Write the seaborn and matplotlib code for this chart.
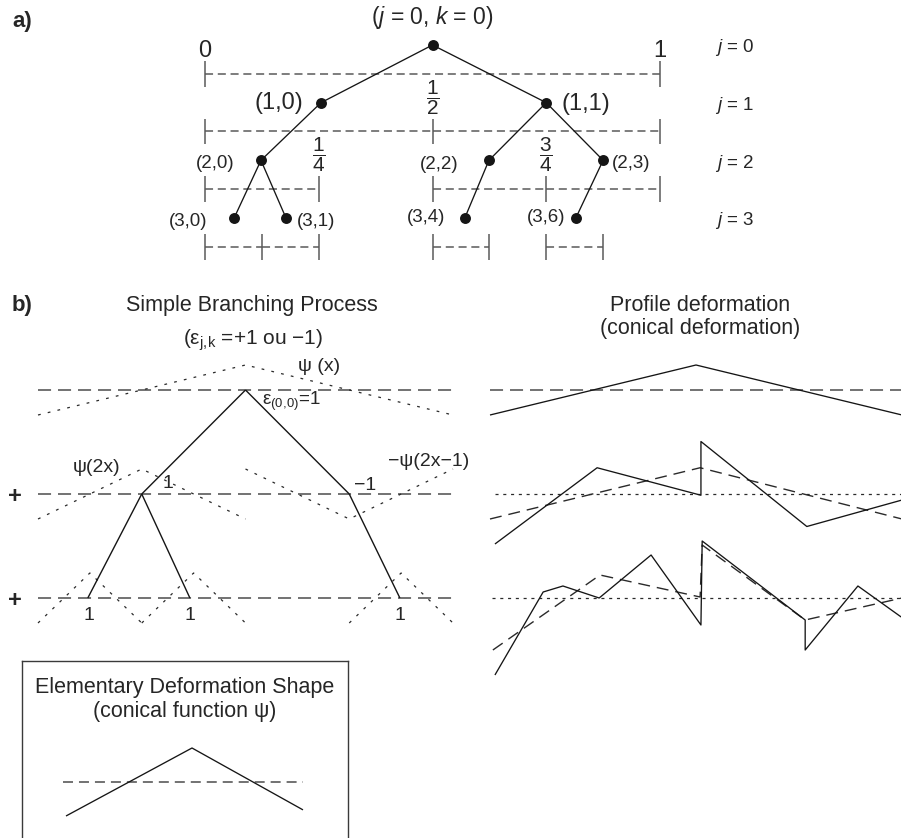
import matplotlib
matplotlib.use("Agg")
import matplotlib.pyplot as plt
import pandas as pd
import seaborn as sns

# ---------------- data ----------------
# a) dyadic tree: node (j, k), position on [0, 1], parent node
node_level = [0, 1, 1, 2, 2, 2, 3, 3, 3, 3]
node_index = [0, 0, 1, 0, 2, 3, 0, 1, 4, 6]
node_pos = [0.5, 0.255, 0.75, 0.123, 0.624, 0.875, 0.064, 0.178, 0.571, 0.815]
node_parent = [-1, 0, 0, 1, 2, 2, 3, 3, 4, 5]

# dyadic supports drawn under each level
interval_level = [0, 1, 1, 2, 2, 2, 3, 3, 3, 3]
interval_start = [0.0, 0.0, 0.5, 0.0, 0.5, 0.75, 0.0, 0.125, 0.5, 0.75]
interval_end = [1.0, 0.5, 1.0, 0.25, 0.75, 1.0, 0.125, 0.25, 0.625, 0.875]

end_labels = ["0", "1"]
end_values = [0.0, 1.0]
frac_level = [1, 2, 2]
frac_num = [1, 1, 3]
frac_den = [2, 4, 4]

# b) branching coefficients eps(j,k)
coef_level = [0, 1, 1, 2, 2, 2]
coef_index = [0, 0, 1, 0, 1, 3]
coef_sign = [1, 1, -1, 1, 1, 1]
coef_pos = [0.5, 0.25, 0.75, 0.12, 0.366, 0.872]
coef_parent = [-1, 0, 0, 1, 1, 2]

# elementary conical shape psi on its support
psi_t = [0.0, 0.5, 1.0]
psi_v = [-1.0, 1.0, -1.0]

# profile deformation, one row per level
prof0_t = [0.0, 0.5, 1.0]
prof0_v = [-1.0, 1.0, -1.0]
prof1_prev_t = [0.0, 0.51, 1.0]
prof1_prev_v = [-1.0, 1.05, -1.0]
prof1_t = [0.012, 0.26, 0.512, 0.512, 0.769, 0.998]
prof1_v = [-2.0, 1.05, -0.05, 2.1, -1.3, -0.25]
prof2_prev_t = [0.007, 0.267, 0.51, 0.515, 0.765, 1.0]
prof2_prev_v = [-2.08, 0.92, 0.04, 2.12, -0.88, 0.0]
prof2_t = [0.012, 0.129, 0.177, 0.265, 0.391, 0.512, 0.515, 0.765, 0.765, 0.893, 0.998]
prof2_v = [-3.08, 0.24, 0.48, 0.0, 1.72, -1.08, 2.28, -0.88, -2.08, 0.48, -0.76]

# elementary deformation shape
shape_t = [0.0125, 0.5375, 1.0]
shape_v = [-1.0, 1.0, -0.82]

# ---------------- style ----------------
W, H, DPI = 901, 838, 100
sns.set_style("white")
plt.rcParams.update({
    "font.family": ["Liberation Sans", "DejaVu Sans"],
    "mathtext.fontset": "custom",
    "mathtext.rm": "Liberation Sans",
    "mathtext.it": "Liberation Sans:italic",
    "mathtext.bf": "Liberation Sans:bold",
    "lines.scale_dashes": False,
    "lines.solid_capstyle": "butt",
    "lines.dash_capstyle": "butt",
})

SOLID = "#151515"
DASHED = "#5a5a5a"
DOTTED = "#2a2a2a"
DASH_A = (0, (5.8, 3.4))
DASH_B = (0, (9.4, 5.0))
DOT_B = (0, (2.0, 5.2))
DOT_P = (0, (2.2, 3.4))
DASH_P = (0, (8.6, 5.0))
DASH_BOX = (0, (7.2, 4.3))

fig = plt.figure(figsize=(W / DPI, H / DPI), dpi=DPI)


def panel(name, box, xref, yref, frame=False):
    """Axes over the pixel box (l, t, r, b) whose data units pass through two reference pairs."""
    l, t, r, b = box
    ax = fig.add_axes([l / W, 1 - b / H, (r - l) / W, (b - t) / H], label=name)
    (px0, v0), (px1, v1) = xref
    sx = (px1 - px0) / (v1 - v0)
    ax.set_xlim(v0 + (l - px0) / sx, v0 + (r - px0) / sx)
    (py0, w0), (py1, w1) = yref
    sy = (py1 - py0) / (w1 - w0)
    ax.set_ylim(w0 + (b - py0) / sy, w0 + (t - py0) / sy)
    ax.patch.set_alpha(0)
    if frame:
        ax.set_xticks([])
        ax.set_yticks([])
        for s in ("left", "top", "right"):
            ax.spines[s].set_visible(True)
            ax.spines[s].set_color("#3a3a3a")
            ax.spines[s].set_linewidth(1.0)
        ax.spines["bottom"].set_visible(False)
    else:
        ax.set_axis_off()
    return ax


def draw(ax, xs, ys, color=SOLID, lw=0.95, ls="-", z=2):
    sns.lineplot(x=list(xs), y=list(ys), sort=False, estimator=None, ax=ax,
                 color=color, linewidth=lw, linestyle=ls, legend=False, zorder=z)


def draw_segments(ax, segs, color, lw, z=2):
    rows = []
    for i, ((x0, y0), (x1, y1)) in enumerate(segs):
        rows += [dict(x=x0, y=y0, seg=i), dict(x=x1, y=y1, seg=i)]
    df = pd.DataFrame(rows)
    sns.lineplot(data=df, x="x", y="y", units="seg", estimator=None, sort=False,
                 ax=ax, color=color, linewidth=lw, legend=False, zorder=z)


# ---------------- a) ----------------
fig.text(12 / W, 1 - 22 / H, "a)", fontsize=16, fontweight="bold", ha="left", va="center")
ax = panel("tree", (0, 0, W, H), ((205, 0.0), (660, 1.0)), ((45, 0.0), (218, 3.0)))

BAR = 0.5    # interval bars sit half a level below the nodes
TICK = 0.22

for lvl, a, b in zip(interval_level, interval_start, interval_end):
    draw(ax, [a, b], [lvl + BAR, lvl + BAR], color=DASHED, lw=1.1, ls=DASH_A, z=1)

tick_set = sorted({(lvl, p) for lvl, a, b in zip(interval_level, interval_start, interval_end) for p in (a, b)})
draw_segments(ax, [((p, lvl + BAR - TICK), (p, lvl + BAR + TICK)) for lvl, p in tick_set], DASHED, 1.1, z=1)

edges = [((node_pos[p], node_level[p]), (node_pos[i], node_level[i]))
         for i, p in enumerate(node_parent) if p >= 0]
draw_segments(ax, edges, SOLID, 0.95)
sns.scatterplot(x=node_pos, y=node_level, ax=ax, s=62, color=SOLID, linewidth=0, zorder=3, legend=False)

ax.text(0.5, -0.47, r"($j$ = 0, $k$ = 0)", fontsize=16.5, ha="center", va="center")
for lab, v in zip(end_labels, end_values):
    ax.text(v, 0.1, lab, fontsize=17, ha="center", va="center")
for lvl, n, d in zip(frac_level, frac_num, frac_den):
    ax.text(n / d, lvl - 0.09, r"$\dfrac{\mathrm{%d}}{\mathrm{%d}}$" % (n, d), fontsize=15,
            ha="center", va="center")
for lvl in sorted(set(node_level)):
    ax.text(1.121, lvl + 0.05, r"$j$ = %d" % lvl, fontsize=13.5, ha="left", va="center")

# label placement around each node: (dx px, dy px, alignment, size)
label_layout = {
    1: (-18, 0, "right", 17), 2: (15, -1, "left", 17),
    3: (-26, -3, "right", 13.5), 4: (-30, -4, "right", 13.5), 5: (9, -3, "left", 13.5),
    6: (-27, -4, "right", 13.5), 7: (11, -4, "left", 13.5),
    8: (-20, 0, "right", 13.5), 9: (-10, 0, "right", 13.5),
}
for i, (dx, dy, ha, fs) in label_layout.items():
    ax.annotate(f"({node_level[i]},{node_index[i]})", xy=(node_pos[i], node_level[i]),
                xytext=(dx, dy), textcoords="offset pixels", fontsize=fs, ha=ha, va="center")

# ---------------- b) branching process ----------------
fig.text(12 / W, 1 - 305 / H, "b)", fontsize=16, fontweight="bold", ha="left", va="center")
bx = panel("branch", (0, 0, W, H), ((38, 0.0), (453, 1.0)), ((390, 0.0), (598, 2.0)))
AMP = 25 / 104   # psi amplitude in row units

for row in sorted(set(coef_level)):
    draw(bx, [0.0, 1.0], [row, row], color=DASHED, lw=1.2, ls=DASH_B, z=1)

for lvl, k, sgn in zip(coef_level, coef_index, coef_sign):
    n = 2 ** lvl
    draw(bx, [(k + t) / n for t in psi_t], [lvl - AMP * sgn * v for v in psi_v],
         color=DOTTED, lw=0.9, ls=DOT_B, z=1)

bedges = [((coef_pos[p], coef_level[p]), (coef_pos[i], coef_level[i]))
          for i, p in enumerate(coef_parent) if p >= 0]
draw_segments(bx, bedges, SOLID, 1.0)

bx.text(0.516, -0.817, "Simple Branching Process", fontsize=15.5, ha="center", va="center")
bx.text(0.518, -0.48, r"(ε$_{\mathrm{j,\!k}}$ =+1 ou −1)", fontsize=15, ha="center", va="center")
bx.text(0.627, -0.23, "ψ (x)", fontsize=14, ha="left", va="center")
bx.text(0.198, 0.75, "ψ(2x)", fontsize=14, ha="right", va="center")
bx.text(1.04, 0.69, "−ψ(2x−1)", fontsize=14, ha="right", va="center")
for r in (1, 2):
    bx.text(-0.055, r + 0.02, "+", fontsize=17, fontweight="bold", ha="center", va="center")


def sign_text(s):
    return "1" if s > 0 else "−1"


eps_layout = {0: (17, -11, "left"), 1: (26, 10, "center"), 2: (16, 8, "center"),
              3: (1, -17, "center"), 4: (0, -17, "center"), 5: (0, -17, "center")}
for i, (dx, dy, ha) in eps_layout.items():
    lab = sign_text(coef_sign[i])
    fs = 14
    if coef_level[i] == 0:
        lab = r"ε$_{\mathrm{(0,\!0)}}$=" + lab
        fs = 13.5
    bx.annotate(lab, xy=(coef_pos[i], coef_level[i]), xytext=(dx, dy),
                textcoords="offset pixels", fontsize=fs, ha=ha, va="center")

# ---------------- b) profile deformation ----------------
px = panel("profile", (0, 0, W, H), ((490, 0.0), (902, 1.0)), ((390, 0.0), (598, 2.0)))
px.text(0.51, -0.817, "Profile deformation", fontsize=15.5, ha="center", va="center")
px.text(0.51, -0.587, "(conical deformation)", fontsize=15.5, ha="center", va="center")

draw(px, [0.0, 1.0], [0, 0], color=DASHED, lw=1.2, ls=DASH_B, z=1)
draw(px, prof0_t, [0 - AMP * v for v in prof0_v])

draw(px, [0.012, 1.0], [1, 1], color=DOTTED, lw=0.9, ls=DOT_P, z=1)
draw(px, prof1_prev_t, [1 - AMP * v for v in prof1_prev_v], color=DOTTED, lw=1.0, ls=DASH_P, z=1)
draw(px, prof1_t, [1 - AMP * v for v in prof1_v])

draw(px, [0.005, 1.0], [2, 2], color=DOTTED, lw=0.9, ls=DOT_P, z=1)
draw(px, prof2_prev_t, [2 - AMP * v for v in prof2_prev_v], color=DOTTED, lw=1.0, ls=DASH_P, z=1)
draw(px, prof2_t, [2 - AMP * v for v in prof2_v])

# ---------------- elementary shape box ----------------
sx = panel("shape", (22, 661, 348, 860), ((63, 0.0), (303, 1.0)), ((782, 0.0), (748, 1.0)), frame=True)
sx.text(0.508, 2.794, "Elementary Deformation Shape", fontsize=15.5, ha="center", va="center")
sx.text(0.508, 2.088, "(conical function ψ)", fontsize=15.5, ha="center", va="center")
draw(sx, [0.0, 1.0], [0, 0], color=DASHED, lw=1.2, ls=DASH_BOX, z=1)
draw(sx, shape_t, shape_v)

fig.savefig("out.png", dpi=DPI)
